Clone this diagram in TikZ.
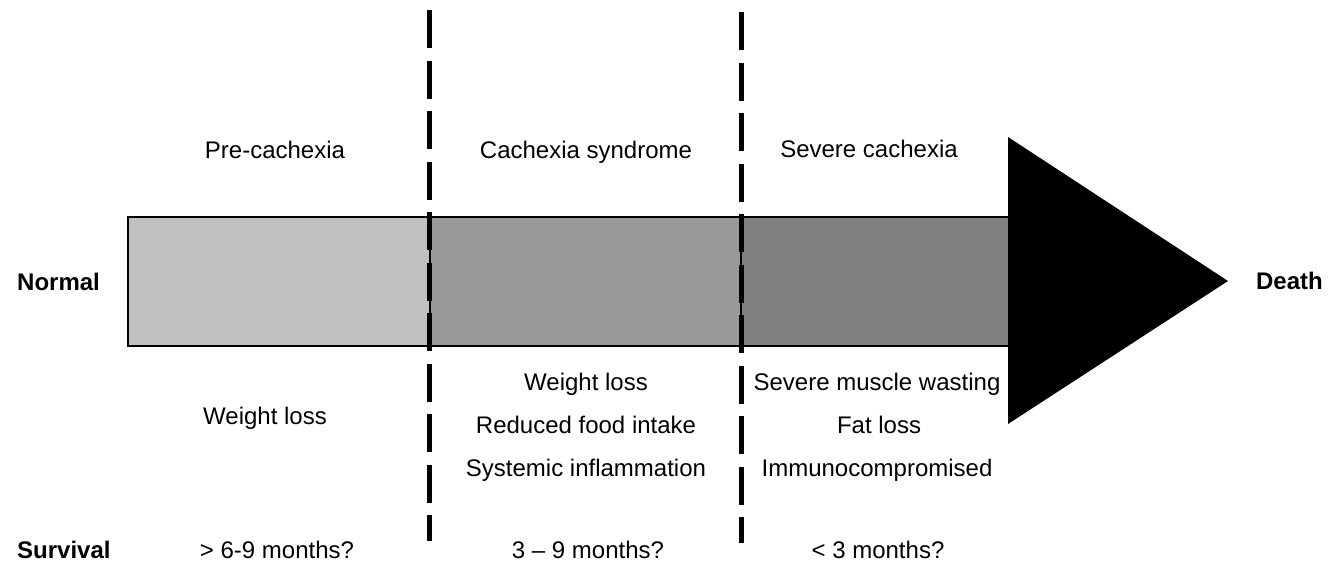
\documentclass[tikz,border=0pt]{standalone}
\usepackage{fontspec}
\setmainfont{Liberation Sans}
\definecolor{segA}{HTML}{C0C0C0}
\definecolor{segB}{HTML}{999999}
\definecolor{segC}{HTML}{808080}
\begin{document}
\begin{tikzpicture}[x=1pt,y=-1pt,
  lbl/.style={font=\fontsize{24}{28}\selectfont, inner sep=0pt, anchor=base},
  boldlbl/.style={font=\fontsize{24}{28}\selectfont\bfseries, inner sep=0pt, anchor=base west},
  seg/.style={draw=black, line width=1.5pt},
  divider/.style={line width=5pt, dash pattern=on 38pt off 12.5pt}]
\useasboundingbox (0,0) rectangle (1337,566);
% bar segments
\filldraw[seg, fill=segA] (128,217) rectangle (430,346);
\filldraw[seg, fill=segB] (430,217) rectangle (741,346);
\filldraw[seg, fill=segC] (741,217) rectangle (1009,346);
% arrow head
\fill[black] (1008,137) -- (1228,281) -- (1008,424) -- cycle;
% dividers
\coordinate (d1t) at (429,10);
\coordinate (d1b) at (429,541);
\coordinate (d2t) at (741,12);
\coordinate (d2b) at (741,543);
\draw[divider] (d1t) -- (d1b);
\draw[divider] (d2t) -- (d2b);
% labels
\node[boldlbl] (normal) at (17,290) {Normal};
\node[lbl, anchor=base east] (death) at (1323,289) {\bfseries Death};
\node[lbl] (pre) at (275,158) {Pre-cachexia};
\node[lbl] (syn) at (586,158) {Cachexia syndrome};
\node[lbl] (sev) at (869,157) {Severe cachexia};
\node[lbl] (w1) at (265,424) {Weight loss};
\node[lbl] (w2) at (586,390) {Weight loss};
\node[lbl] (rf) at (586,433) {Reduced food intake};
\node[lbl] (si) at (586,476) {Systemic inflammation};
\node[lbl] (sm) at (877,390) {Severe muscle wasting};
\node[lbl] (fl) at (879,433) {Fat loss};
\node[lbl] (im) at (877,476) {Immunocompromised};
\node[boldlbl] (surv) at (17,558) {Survival};
\node[lbl] (s1) at (277,558) {> 6-9 months?};
\node[lbl] (s2) at (588,558) {3 – 9 months?};
\node[lbl] (s3) at (878,558) {< 3 months?};
\end{tikzpicture}
\end{document}
